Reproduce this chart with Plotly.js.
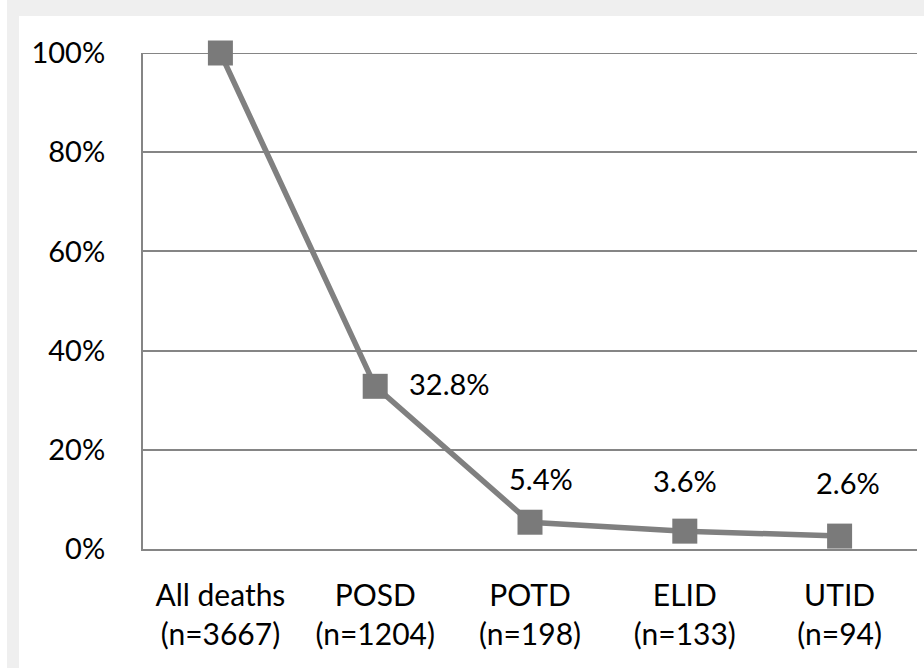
<!DOCTYPE html>
<html>
<head>
<meta charset="utf-8">
<script src="https://cdn.plot.ly/plotly-3.0.1.min.js"></script>
<style>
  html, body { margin: 0; padding: 0; background: #ffffff; width: 924px; height: 668px; overflow: hidden; }
  #frame { position: absolute; left: 7px; top: 0px; width: 917px; height: 668px; background: #efefef; }
  #chart { position: absolute; left: 19px; top: 16px; width: 905px; height: 652px; background: #ffffff; }
</style>
</head>
<body>
<div id="frame"></div>
<div id="chart"></div>
<script>
// ---- data ----
const categories = ['All deaths', 'POSD', 'POTD', 'ELID', 'UTID'];
const counts = [3667, 1204, 198, 133, 94];
const percentValues = [100, 32.8, 5.4, 3.6, 2.6];
const yTickValues = [0, 20, 40, 60, 80, 100];
const labelledIndices = [1, 2, 3, 4];

// ---- label placement (style) ----
const labelOffsets = {1: {xanchor: 'left', xshift: 32, yshift: 3},
                      2: {xanchor: 'center', xshift: 11, yshift: 44},
                      3: {xanchor: 'center', xshift: 0, yshift: 51},
                      4: {xanchor: 'center', xshift: 8, yshift: 54}};

const tickText = categories.map((c, i) => c + '<br>(n=' + counts[i] + ')');
const FONT = 'Lato, "Open Sans", sans-serif';
const FS = 29;
const GRID = '#858585';
const yMax = yTickValues[yTickValues.length - 1];

const trace = {
  x: categories,
  y: percentValues,
  type: 'scatter',
  mode: 'lines+markers',
  line: {color: '#808080', width: 5.5},
  marker: {symbol: 'square', size: 25, color: '#7a7a7a', line: {width: 0}},
  cliponaxis: false,
  hoverinfo: 'skip'
};

const annotations = labelledIndices.map(i => Object.assign({
  x: categories[i],
  y: percentValues[i],
  xref: 'x', yref: 'y',
  text: percentValues[i].toFixed(1) + '%',
  showarrow: false,
  yanchor: 'middle',
  font: {family: FONT, size: FS, color: '#000000'}
}, labelOffsets[i]));

const layout = {
  width: 905, height: 652,
  margin: {l: 124, r: 7, t: 37, b: 119},
  paper_bgcolor: '#ffffff',
  plot_bgcolor: '#ffffff',
  showlegend: false,
  font: {family: FONT, size: FS, color: '#000000'},
  xaxis: {
    type: 'category',
    range: [-0.5, categories.length - 0.5],
    tickvals: categories,
    ticktext: tickText,
    showgrid: false,
    zeroline: false,
    showline: true,
    linecolor: GRID,
    linewidth: 2,
    ticks: '',
    ticklabelstandoff: 19,
    tickfont: {family: FONT, size: 30, color: '#000000'},
    fixedrange: true
  },
  yaxis: {
    range: [0, yMax],
    tickvals: yTickValues,
    ticktext: yTickValues.map(v => v + '%'),
    showgrid: true,
    gridcolor: GRID,
    gridwidth: 2,
    zeroline: false,
    showline: true,
    linecolor: GRID,
    linewidth: 2,
    ticks: '',
    ticklabelstandoff: 30,
    tickfont: {family: FONT, size: FS, color: '#000000'},
    fixedrange: true
  },
  shapes: [{
    type: 'line', layer: 'below',
    xref: 'paper', x0: 0, x1: 1,
    yref: 'y', y0: yMax, y1: yMax,
    line: {color: GRID, width: 2}
  }],
  annotations: annotations
};

Plotly.newPlot('chart', [trace], layout, {displayModeBar: false, staticPlot: true});
</script>
</body>
</html>
